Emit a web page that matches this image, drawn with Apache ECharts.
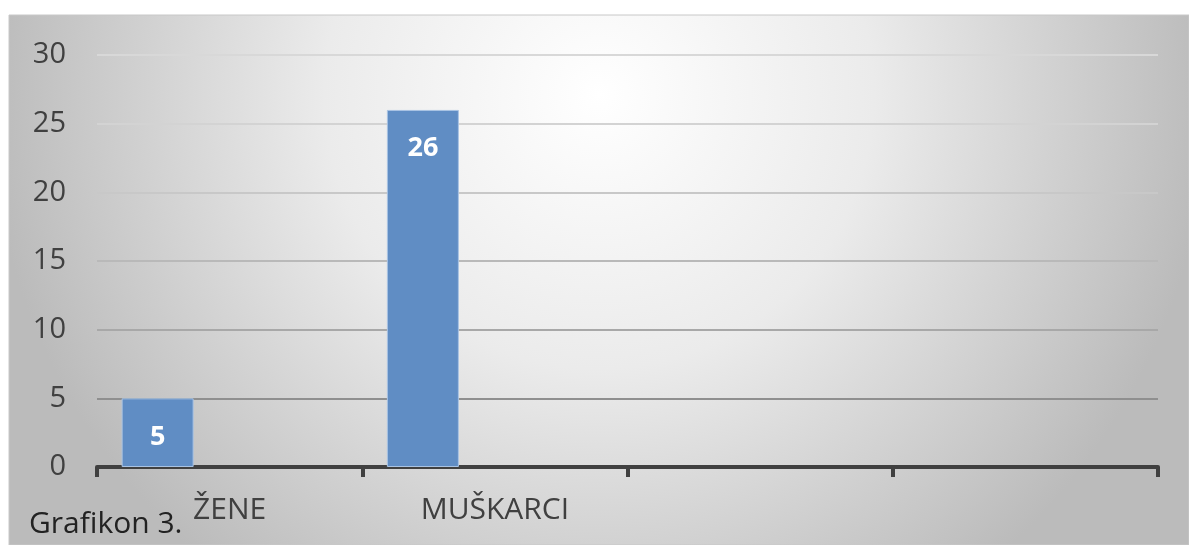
<!DOCTYPE html>
<html lang="hr">
<head>
    <meta charset="UTF-8">
    <title>Grafikon 3.</title>
	<style>
	html, body { margin: 0; padding: 0; background: #fff; }
	#chart { width: 1189px; height: 545px; }
	</style>
</head>
<body>
	<div id="chart"></div>
	<script src="https://cdn.jsdelivr.net/npm/echarts@6/dist/echarts.min.js"></script>
	<script>
	// podaci
	var kategorije = ['ŽENE', 'MUŠKARCI', '', ''];
	var broj = [5, 26, null, null];
	var prazno1 = [null, null, null, null];
	var prazno2 = [null, null, null, null];
	var yTicks = [0, 5, 10, 15, 20, 25, 30];

	var myChart = echarts.init(document.getElementById('chart'));

	var barLabel = {
		show: true,
		position: 'insideTop',
		distance: 25,
		color: '#fff',
		fontWeight: 'bold',
		fontSize: 27,
		fontFamily: 'Open Sans'
	};

	myChart.setOption({
		animation: false,
		graphic: [
			{
				type: 'rect',
				z: -10,
				silent: true,
				shape: { x: 9, y: 15, width: 1180, height: 530 },
				style: {
					fill: new echarts.graphic.RadialGradient(0.5, 0.15, 1.15, [
						{ offset: 0, color: '#ffffff' },
						{ offset: 0.45, color: '#ebebeb' },
						{ offset: 1, color: '#bbbbbb' }
					]),
					stroke: '#c8c8c8',
					lineWidth: 1
				}
			},
			{
				type: 'text',
				left: 29,
				top: 509,
				style: {
					text: 'Grafikon 3.',
					fontSize: 30,
					fontFamily: 'Open Sans',
					fill: '#222'
				}
			}
		],
		grid: { left: 97, right: 31, top: 55, bottom: 78 },
		xAxis: {
			type: 'category',
			data: kategorije,
			boundaryGap: true,
			axisLine: { lineStyle: { color: '#404040', width: 4 } },
			axisTick: { show: true, length: 10, lineStyle: { color: '#404040', width: 4 } },
			axisLabel: { color: '#404040', fontSize: 30, fontFamily: 'Open Sans', margin: 28 }
		},
		yAxis: {
			type: 'value',
			min: yTicks[0],
			max: yTicks[yTicks.length - 1],
			interval: 5,
			axisLine: { show: false },
			axisTick: { show: false },
			axisLabel: { color: '#404040', fontSize: 29, fontFamily: 'Open Sans', margin: 31 },
			splitLine: {
				lineStyle: {
					width: 2,
					color: ['#404040', '#8f8f8f', '#a8a8a8', '#b9b9b9', '#c8c8c8', '#d3d3d3', '#d8d8d8']
				}
			}
		},
		series: [
			{
				type: 'bar',
				data: broj,
				barWidth: 72,
				barGap: '0%',
				itemStyle: { color: '#608dc4', borderColor: '#a9c3e3', borderWidth: 1 },
				label: barLabel
			},
			{ type: 'bar', data: prazno1, barWidth: 72, barGap: '0%' },
			{ type: 'bar', data: prazno2, barWidth: 72, barGap: '0%' }
		]
	});
	</script>
</body>
</html>
